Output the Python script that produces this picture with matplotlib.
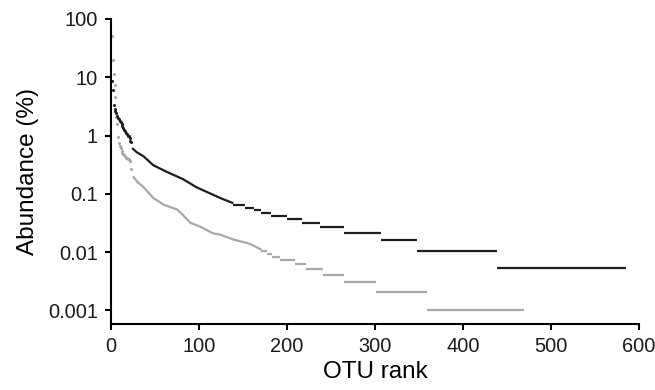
import matplotlib.pyplot as plt

# Rank-abundance data (abundance in %)
# top OTUs, drawn as single dots
black_dot_rank = list(range(1, 24))
black_dot_abund = [8.5, 6.1, 3.3, 2.9, 2.6, 2.4, 2.2, 2.0, 1.9, 1.8, 1.7, 1.6,
                   1.45, 1.35, 1.25, 1.2, 1.1, 1.05, 1.0, 0.97, 0.9, 0.82, 0.78]
grey_dot_rank = list(range(1, 24))
grey_dot_abund = [50, 19.5, 11.5, 7.4, 4.5, 2.1, 1.55, 0.95, 0.75, 0.66, 0.60, 0.54,
                  0.50, 0.48, 0.46, 0.44, 0.42, 0.41, 0.40, 0.39, 0.37, 0.36, 0.27]

# middle part, dense enough to look like a line
black_mid_rank = [24, 29, 37, 48, 63, 82, 97, 124, 139]
black_mid_abund = [0.61, 0.52, 0.44, 0.31, 0.24, 0.178, 0.13, 0.085, 0.069]
grey_mid_rank = [25, 30, 37, 48, 60, 75, 80, 90, 101, 116, 124, 139, 158, 171]
grey_mid_abund = [0.20, 0.16, 0.13, 0.085, 0.065, 0.054, 0.046, 0.032, 0.0275,
                  0.021, 0.020, 0.0165, 0.0139, 0.011]

# tail: runs of OTUs sharing the same read count
black_step_start = [139, 152, 162, 171, 182, 200, 217, 237, 265, 307, 348, 439]
black_step_end = [152, 162, 171, 182, 200, 217, 237, 265, 307, 348, 439, 585]
black_step_abund = [0.0636, 0.0583, 0.0530, 0.0477, 0.0424, 0.0371, 0.0318,
                    0.0265, 0.0212, 0.0159, 0.0106, 0.0053]
grey_step_start = [171, 177, 183, 192, 209, 222, 241, 265, 301, 359]
grey_step_end = [177, 183, 192, 209, 222, 241, 265, 301, 359, 469]
grey_step_abund = [0.0103, 0.0093, 0.0082, 0.0072, 0.0062, 0.0052, 0.0041,
                   0.0031, 0.0021, 0.00103]

y_ticks = [100, 10, 1, 0.1, 0.01, 0.001]
y_labels = ["100", "10", "1", "0.1", "0.01", "0.001"]
x_ticks = [0, 100, 200, 300, 400, 500, 600]

plt.rcParams['font.family'] = ['Liberation Sans', 'DejaVu Sans']

fig = plt.figure(figsize=(6.55, 3.9), dpi=100)
ax = fig.add_axes([0.1695, 0.1705, 0.806, 0.781])

black = '#1e1e1e'
grey = '#a8a8a8'

for dr, da, mr, ma, ss, se, sa, c in [
        (grey_dot_rank, grey_dot_abund, grey_mid_rank, grey_mid_abund,
         grey_step_start, grey_step_end, grey_step_abund, grey),
        (black_dot_rank, black_dot_abund, black_mid_rank, black_mid_abund,
         black_step_start, black_step_end, black_step_abund, black)]:
    ax.plot(dr, da, ls='none', marker='o', ms=2.2, mew=0, color=c)
    ax.plot(mr, ma, color=c, lw=1.6, solid_capstyle='butt')
    ax.hlines(sa, ss, se, colors=c, lw=1.6)

ax.set_yscale('log')
ax.set_xlim(0, 600)
ax.set_ylim(0.000598, 100)
ax.set_yticks(y_ticks)
ax.set_yticklabels(y_labels)
ax.minorticks_off()
ax.set_xticks(x_ticks)

for s in ['top', 'right']:
    ax.spines[s].set_visible(False)
for s in ['left', 'bottom']:
    ax.spines[s].set_linewidth(1.5)
ax.tick_params(direction='out', length=4.5, width=1.5, labelsize=14.4, pad=5,
               colors='black', labelcolor='#1a1a1a')

ax.set_xlabel("OTU rank", fontsize=17.5, labelpad=4)
ax.set_ylabel("Abundance (%)", fontsize=17.5, labelpad=6)

fig.savefig("out.png", dpi=100)
